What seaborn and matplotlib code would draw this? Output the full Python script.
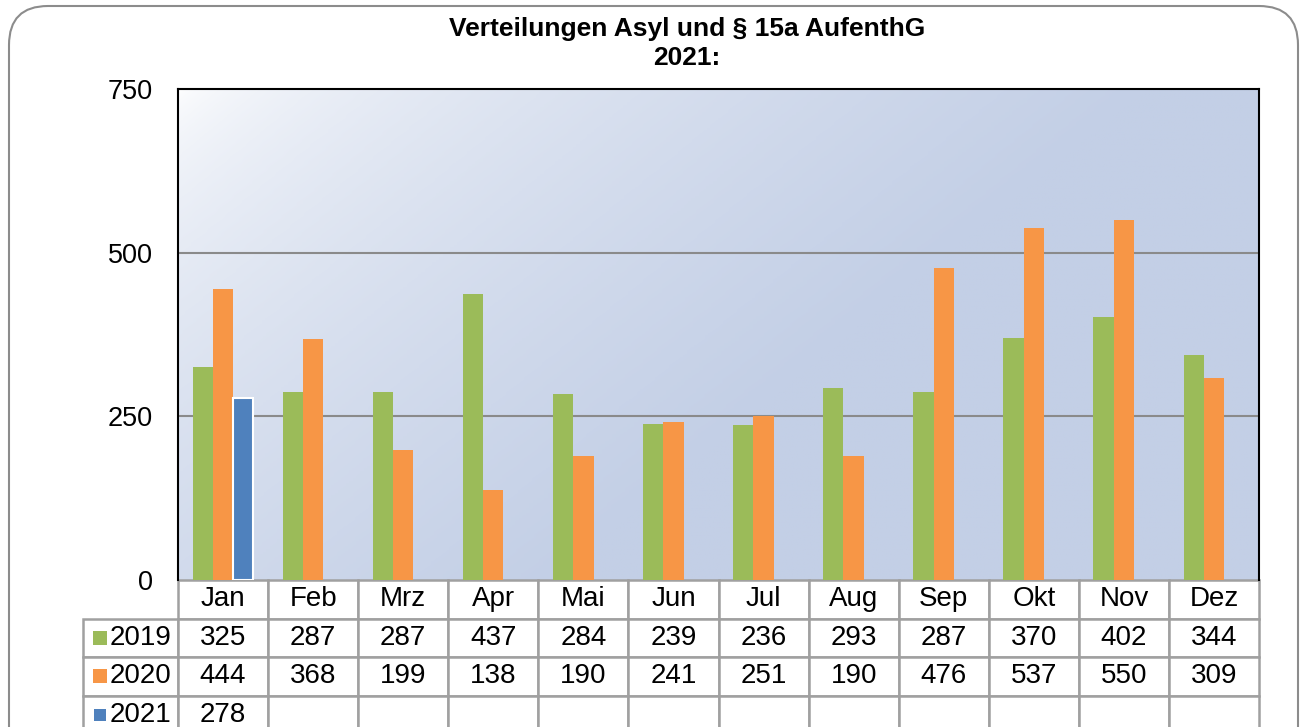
import matplotlib.pyplot as plt
import numpy as np
import pandas as pd
import seaborn as sns
from matplotlib.colors import LinearSegmentedColormap
from matplotlib.patches import FancyBboxPatch, Rectangle

# Verteilungen Asyl und § 15a AufenthG, monthly bars with an Excel-like data table

months = ["Jan", "Feb", "Mrz", "Apr", "Mai", "Jun", "Jul", "Aug", "Sep", "Okt", "Nov", "Dez"]
years = ["2019", "2020", "2021"]
v2019 = [325, 287, 287, 437, 284, 239, 236, 293, 287, 370, 402, 344]
v2020 = [444, 368, 199, 138, 190, 241, 251, 190, 476, 537, 550, 309]
v2021 = [278, None, None, None, None, None, None, None, None, None, None, None]
colors = ["#9BBB59", "#F79646", "#4F81BD"]

rows = []
for year, vals in zip(years, [v2019, v2020, v2021]):
    for m, v in zip(months, vals):
        if v is not None:
            rows.append({"Monat": m, "Jahr": year, "Wert": v})
df = pd.DataFrame(rows)

sns.set_style("white")
plt.rcParams["font.family"] = ["Liberation Sans", "DejaVu Sans"]
plt.rcParams["text.color"] = "black"
plt.rcParams["ytick.color"] = "black"
plt.rcParams["xtick.color"] = "black"

fig = plt.figure(figsize=(13.01, 7.27), dpi=100)
ax = fig.add_axes([178 / 1301, 1 - 580 / 727, 1081 / 1301, 491 / 727])

# outer rounded frame
frame = FancyBboxPatch((9 / 1301, -0.1), 1289 / 1301, 1.1 - 6 / 727,
                       boxstyle="round,pad=0,rounding_size=0.03",
                       transform=fig.transFigure, facecolor="none",
                       edgecolor="#8C8C8C", linewidth=1.5, mutation_aspect=1301 / 727)
fig.patches.append(frame)

# gradient plot area (white top-left -> light blue)
gx, gy = np.meshgrid(np.linspace(0, 1, 300), np.linspace(0, 1, 200))
t = np.clip((gx + 0.55 * gy) / 0.9, 0, 1) ** 0.55
cmap = LinearSegmentedColormap.from_list("bg", ["#FFFFFF", "#C3CFE6"])
ax.imshow(t, cmap=cmap, extent=[-0.5, 11.5, 0, 750], origin="upper", aspect="auto",
          zorder=0, interpolation="bilinear")

sns.barplot(data=df, x="Monat", y="Wert", hue="Jahr", order=months, hue_order=years,
            palette=colors, width=0.675, gap=0, saturation=1, ax=ax, zorder=3,
            legend=False, errorbar=None, linewidth=0)
for p in ax.containers[2]:
    p.set_edgecolor("white")
    p.set_linewidth(1.5)

ax.set_xlim(-0.5, 11.5)
ax.set_ylim(0, 750)
ax.set_yticks([0, 250, 500, 750])
ax.set_yticklabels(["0", "250", "500", "750"], fontsize=19.5)
ax.tick_params(axis="y", length=0, pad=18)
ax.set_xticks([])
ax.set_xlabel("")
ax.set_ylabel("")
for y in [250, 500]:
    ax.axhline(y, color="#8A8A8A", lw=1.5, zorder=2)
for s in ["top", "right", "left"]:
    ax.spines[s].set_color("black")
    ax.spines[s].set_linewidth(1.5)
ax.spines["bottom"].set_visible(False)

# data table: first column holds the series labels
cell_text = []
for year, vals in zip(years, [v2019, v2020, v2021]):
    cell_text.append([year] + ["" if v is None else str(v) for v in vals])
row_h = 38.5 / 491
lab_w = 95 / 1081
col_w = [lab_w] + [1 / 12] * 12
tab = ax.table(cellText=cell_text, colLabels=[""] + months, colWidths=col_w,
               cellLoc="center", bbox=[-lab_w, -4 * row_h, 1 + lab_w, 4 * row_h])
tab.auto_set_font_size(False)
for (r, c), cell in tab.get_celld().items():
    cell.set_edgecolor("#A0A0A0")
    cell.set_linewidth(1.8)
    cell.set_facecolor("white")
    cell.get_text().set_fontsize(20)
    cell.get_text().set_color("black")
    if c == 0:
        cell.get_text().set_ha("right")
        cell.PAD = 0.07
    if r == 0 and c == 0:
        cell.visible_edges = ""
        cell.set_facecolor("none")

for i, col in enumerate(colors):
    size = 14 if i < 2 else 12
    yc = 1 - (580 + 38.5 * (i + 1.5)) / 727
    fig.patches.append(Rectangle((99.5 / 1301 - size / 2 / 1301, yc - size / 2 / 727),
                                 size / 1301, size / 727, transform=fig.transFigure,
                                 facecolor=col, edgecolor="none", zorder=10))

fig.text(687 / 1301, 1 - 29 / 727, "Verteilungen Asyl und § 15a AufenthG", ha="center",
         va="center", fontsize=19, fontweight="bold", color="black")
fig.text(687 / 1301, 1 - 58 / 727, "2021:", ha="center", va="center", fontsize=19,
         fontweight="bold", color="black")

plt.savefig("out.png", dpi=100)
plt.close()
